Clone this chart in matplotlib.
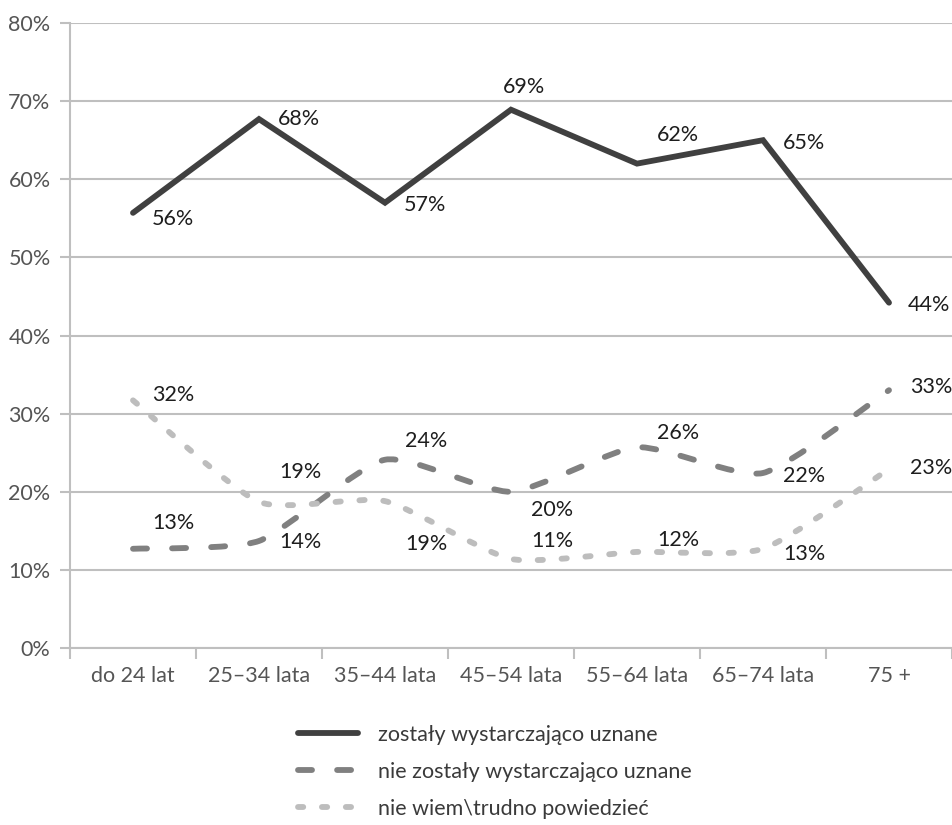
import numpy as np
import matplotlib
matplotlib.use('Agg')
import matplotlib.pyplot as plt
from matplotlib.path import Path
from matplotlib.patches import PathPatch
from matplotlib.lines import Line2D

plt.rcParams['font.family'] = ['Lato', 'DejaVu Sans']

categories = ['do 24 lat', '25–34 lata', '35–44 lata', '45–54 lata',
              '55–64 lata', '65–74 lata', '75 +']
uznane = [55.7, 67.7, 57.0, 68.9, 62.0, 65.0, 44.2]
nie_uznane = [12.7, 13.7, 24.1, 20.0, 25.7, 22.4, 33.0]
nie_wiem = [31.7, 18.7, 18.8, 11.4, 12.3, 12.7, 22.9]
series_names = ['zostały wystarczająco uznane',
                'nie zostały wystarczająco uznane',
                'nie wiem\\trudno powiedzieć']

# label offsets in pixels (dx, dy) from each point
off_uznane = [(19, -6), (19, 0), (19, -2), (-8, 23), (20, 29), (20, -3), (19, -2)]
off_nie_uznane = [(19, 26), (20, -1), (20, 19), (20, -18), (20, 14), (20, -3), (21, 3)]
off_nie_wiem = [(19, 5), (20, 30), (20, -43), (20, 18), (20, 12), (20, -5), (21, 1)]

c_dark = '#404040'
c_mid = '#808080'
c_light = '#bdbdbd'
grid_c = '#bfbfbf'
tick_c = '#555555'
lw = 4.2


def smooth_path(xs, ys, k=0.1):
    pts = np.column_stack([xs, ys]).astype(float)
    n = len(pts)
    verts = [pts[0]]
    codes = [Path.MOVETO]
    for i in range(n - 1):
        p0 = pts[max(i - 1, 0)]
        p1 = pts[i]
        p2 = pts[i + 1]
        p3 = pts[min(i + 2, n - 1)]
        verts += [p1 + (p2 - p0) * k, p2 - (p3 - p1) * k, p2]
        codes += [Path.CURVE4] * 3
    return Path(verts, codes)


fig = plt.figure(figsize=(9.52, 8.25), dpi=100)
ax = fig.add_axes([70 / 952, 177 / 825, 882 / 952, 625 / 825])

x = np.arange(len(categories))
ax.set_xlim(-0.5, len(categories) - 0.5)
ax.set_ylim(0, 80)

ax.set_yticks(np.arange(0, 81, 10))
ax.set_yticklabels([f'{v}%' for v in range(0, 81, 10)])
ax.yaxis.grid(True, color=grid_c, lw=1.5)
ax.set_axisbelow(True)

ax.set_xticks(x)
ax.set_xticklabels(categories)
ax.set_xticks(np.arange(-0.5, len(categories), 1), minor=True)
ax.tick_params(axis='x', which='major', length=0, pad=13, labelsize=15.5, labelcolor=tick_c)
ax.tick_params(axis='x', which='minor', length=8, width=1.5, color=grid_c)
ax.tick_params(axis='y', length=7, width=1.5, color=grid_c, pad=7, labelsize=15.5, labelcolor=tick_c)

for s in ['top', 'right']:
    ax.spines[s].set_visible(False)
ax.spines['left'].set_color(grid_c)
ax.spines['left'].set_linewidth(1.5)
ax.spines['bottom'].set_color(grid_c)
ax.spines['bottom'].set_linewidth(1.5)

# solid line: straight segments
ax.plot(x, uznane, color=c_dark, lw=lw, solid_capstyle='round',
        solid_joinstyle='miter', zorder=4, clip_on=False)

dash_mid = (0, (2.4, 4.3))
dash_light = (0, (0.9, 3.2))

for vals, col, ls in [(nie_uznane, c_mid, dash_mid), (nie_wiem, c_light, dash_light)]:
    patch = PathPatch(smooth_path(x, vals), facecolor='none', edgecolor=col,
                      lw=lw, linestyle=ls, zorder=3, clip_on=False)
    patch.set_capstyle('round')
    ax.add_patch(patch)

for vals, offs in [(uznane, off_uznane), (nie_uznane, off_nie_uznane), (nie_wiem, off_nie_wiem)]:
    for xi, v, (dx, dy) in zip(x, vals, offs):
        ax.annotate(f'{round(v):d}%', (xi, v), xytext=(dx, dy),
                    textcoords='offset pixels', ha='left', va='center',
                    fontsize=15.5, color='#1e1e1e', zorder=5, annotation_clip=False)

handles = [
    Line2D([], [], color=c_dark, lw=lw, solid_capstyle='round'),
    Line2D([], [], color=c_mid, lw=lw, linestyle=dash_mid, dash_capstyle='round'),
    Line2D([], [], color=c_light, lw=lw, linestyle=dash_light, dash_capstyle='round'),
]
leg = fig.legend(handles, series_names, loc='upper left',
                 bbox_to_anchor=(298 / 952, 1 - 725 / 825), frameon=False,
                 fontsize=15.5, handlelength=2.8, handletextpad=0.9,
                 labelspacing=0.78, borderpad=0, borderaxespad=0)
for t in leg.get_texts():
    t.set_color('#3a3a3a')

fig.savefig('out.png', dpi=100)
